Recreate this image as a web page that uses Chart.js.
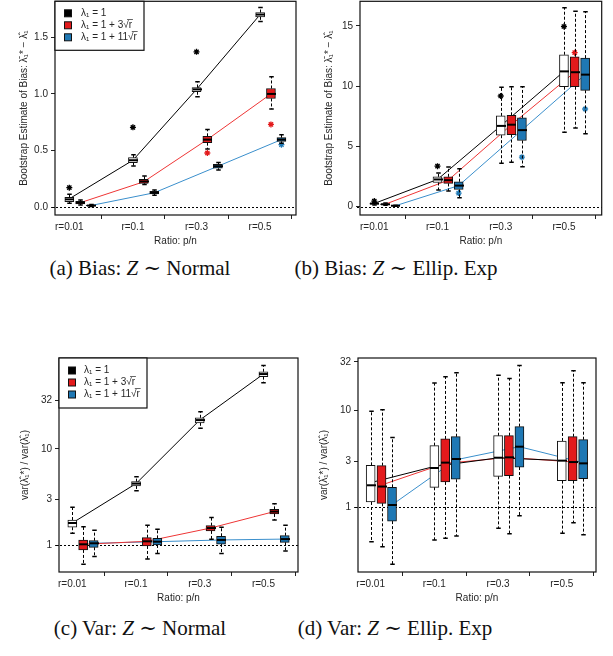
<!DOCTYPE html>
<html>
<head>
<meta charset="utf-8">
<script src="https://cdn.jsdelivr.net/npm/chart.js@4.4.1/dist/chart.umd.min.js"></script>
<style>
  body { margin: 0; background: #fff; }
  #page { position: relative; width: 613px; height: 656px; overflow: hidden; }
  canvas { position: absolute; }
  .cap { position: absolute; width: 300px; text-align: center; font-family: "Liberation Serif", "DejaVu Serif", serif;
         font-size: 21px; line-height: 24px; color: #111; white-space: nowrap; }
</style>
</head>
<body>
<div id="page">
  <canvas id="biasNorm" width="302" height="254" style="left:0;top:-4px"></canvas>
  <canvas id="biasExp" width="307" height="254" style="left:300px;top:-4px"></canvas>
  <canvas id="varNorm" width="302" height="267" style="left:0;top:340px"></canvas>
  <canvas id="varExp" width="300" height="267" style="left:300px;top:340px"></canvas>
  <div class="cap" style="left:-10px;top:256px">(a) Bias: <i>Z</i> &#8764; Normal</div>
  <div class="cap" style="left:246px;top:256px">(b) Bias: <i>Z</i> &#8764; Ellip. Exp</div>
  <div class="cap" style="left:-10px;top:616px">(c) Var: <i>Z</i> &#8764; Normal</div>
  <div class="cap" style="left:245px;top:616px">(d) Var: <i>Z</i> &#8764; Ellip. Exp</div>
</div>
<script>
const groups = ['r=0.01', 'r=0.1', 'r=0.3', 'r=0.5'];
const seriesNames = ['λ₁ = 1', 'λ₁ = 1 + 3√r̅', 'λ₁ = 1 + 11√r̅'];
const offsets = [0, 0.17, 0.335];
const boxFill = ['#ffffff', '#e31a1c', '#1f78b4'];
const keyFill = ['#000000', '#e31a1c', '#1f78b4'];
const lineColor = ['#000000', '#ee3535', '#3a8fcc'];

// boxes: [lower whisker, q1, median, q3, upper whisker] per ratio
// (a) bias, normal
const aBox1 = [[0.035, 0.05, 0.07, 0.088, 0.115], [0.364, 0.394, 0.415, 0.438, 0.464], [0.975, 1.019, 1.04, 1.057, 1.107], [1.639, 1.68, 1.70, 1.718, 1.762]];
const aBox2 = [[0.02, 0.03, 0.04, 0.052, 0.065], [0.2, 0.211, 0.228, 0.247, 0.276], [0.514, 0.57, 0.597, 0.626, 0.687], [0.866, 0.96, 1.0, 1.048, 1.151]];
const aBox3 = [[0.006, 0.011, 0.015, 0.019, 0.024], [0.106, 0.117, 0.128, 0.141, 0.153], [0.329, 0.344, 0.362, 0.379, 0.396], [0.564, 0.581, 0.597, 0.614, 0.64]];
const aLine1 = [0.075, 0.415, 1.04, 1.70];
const aLine2 = [0.04, 0.225, 0.598, 1.0];
const aLine3 = [0.015, 0.128, 0.362, 0.597];
const aOut1 = [[0, 0.173], [1, 0.705], [2, 1.371]];
const aOut2 = [[2, 0.479], [3, 0.731]];
const aOut3 = [[3, 0.552]];

// (b) bias, elliptical exponential
const bBox1 = [[0.15, 0.22, 0.26, 0.3, 0.38], [1.38, 2.01, 2.26, 2.48, 2.8], [3.61, 5.93, 6.7, 7.53, 9.9], [6.18, 9.95, 11.22, 12.6, 16.5]];
const bBox2 = [[0.12, 0.17, 0.2, 0.24, 0.3], [1.3, 1.93, 2.2, 2.48, 3.3], [3.69, 5.98, 6.8, 7.58, 9.95], [6.53, 9.95, 11.15, 12.43, 16.2]];
const bBox3 = [[0.03, 0.06, 0.08, 0.1, 0.13], [0.74, 1.43, 1.75, 2.07, 3.14], [3.31, 5.49, 6.35, 7.36, 9.95], [6.04, 9.65, 10.95, 12.32, 16.16]];
const bLine1 = [0.27, 2.26, 6.7, 11.22];
const bLine2 = [0.2, 2.2, 6.8, 11.15];
const bLine3 = [0.08, 1.75, 6.35, 10.95];
const bOut1 = [[0, 0.47], [1, 3.36], [2, 9.18], [3, 14.94]];
const bOut2 = [[3, 12.77]];
const bOut3 = [[1, 1.13], [2, 4.11], [3, 8.1]];

// (c) variance ratio, normal
const cBox1 = [[1.33, 1.54, 1.705, 1.83, 2.48], [3.69, 4.13, 4.37, 4.58, 5.16], [16.4, 18.7, 19.96, 21.1, 24.4], [48.8, 56.4, 60, 63.4, 73.8]];
const cBox2 = [[0.635, 0.895, 1.024, 1.136, 1.56], [0.72, 0.984, 1.10, 1.20, 1.61], [1.154, 1.41, 1.51, 1.60, 1.94], [1.83, 2.115, 2.24, 2.36, 2.70]];
const cBox3 = [[0.763, 0.953, 1.049, 1.118, 1.43], [0.82, 1.008, 1.09, 1.18, 1.47], [0.82, 1.03, 1.136, 1.24, 1.54], [0.873, 1.074, 1.16, 1.26, 1.61]];
const cLine1 = [1.705, 4.37, 19.96, 60];
const cLine2 = [1.024, 1.10, 1.51, 2.24];
const cLine3 = [1.049, 1.09, 1.136, 1.16];

// (d) variance ratio, elliptical exponential
const dBox1 = [[0.44, 1.135, 1.69, 2.72, 9.84], [0.459, 1.61, 2.55, 4.35, 19.3], [0.606, 2.09, 3.26, 5.51, 23.2], [0.538, 1.89, 3.04, 4.86, 19.5]];
const dBox2 = [[0.39, 1.10, 1.64, 2.70, 10.2], [0.478, 1.83, 2.90, 5.10, 22.5], [0.534, 2.13, 3.29, 5.51, 21.5], [0.694, 1.89, 2.94, 5.38, 25.9]];
const dBox3 = [[0.257, 0.72, 1.057, 1.61, 5.29], [0.505, 1.95, 3.16, 5.38, 24.7], [0.82, 2.61, 4.24, 6.84, 29.4], [0.52, 1.98, 2.85, 5.01, 19.5]];
const dLine1 = [1.8, 2.65, 3.25, 3.05];
const dLine2 = [1.7, 2.85, 3.28, 2.95];
const dLine3 = [1.06, 3.1, 4.24, 2.9];

const FONT = '"Liberation Sans", Arial, sans-serif';
const TXT = '#262626';

function decor(p) {
  return {
    id: 'decor',
    beforeDatasetsDraw(chart) {
      const ctx = chart.ctx, a = chart.chartArea, y = chart.scales.y;
      const yy = Math.round(y.getPixelForValue(p.ref)) + 0.5;
      ctx.save();
      ctx.strokeStyle = '#000';
      ctx.lineWidth = 1;
      ctx.setLineDash([2, 2]);
      ctx.beginPath();
      ctx.moveTo(a.left - 3, yy);
      ctx.lineTo(a.right, yy);
      ctx.stroke();
      ctx.restore();
    },
    afterDatasetsDraw(chart) {
      const ctx = chart.ctx, a = chart.chartArea, y = chart.scales.y;
      ctx.save();
      p.boxes.forEach((set, s) => {
        const meta = chart.getDatasetMeta(3 + s);
        set.forEach((b, g) => {
          const bar = meta.data[g];
          const x = Math.round(bar.x) + 0.5, half = bar.width / 2;
          const py = b.map(v => y.getPixelForValue(v));
          ctx.strokeStyle = '#000';
          ctx.lineWidth = 1;
          ctx.setLineDash([3, 2]);
          ctx.beginPath();
          ctx.moveTo(x, py[3]); ctx.lineTo(x, py[4]);
          ctx.moveTo(x, py[1]); ctx.lineTo(x, py[0]);
          ctx.stroke();
          ctx.setLineDash([]);
          ctx.lineWidth = 1.5;
          ctx.beginPath();
          ctx.moveTo(x - half / 2, py[4]); ctx.lineTo(x + half / 2, py[4]);
          ctx.moveTo(x - half / 2, py[0]); ctx.lineTo(x + half / 2, py[0]);
          ctx.stroke();
          ctx.lineWidth = 2;
          ctx.beginPath();
          ctx.moveTo(x - half, py[2]); ctx.lineTo(x + half, py[2]);
          ctx.stroke();
        });
      });
      // frame
      ctx.lineWidth = 1.2;
      ctx.strokeStyle = '#111';
      ctx.strokeRect(a.left, a.top, a.right - a.left, a.bottom - a.top);
      // legend
      if (p.legend) {
        const L = p.legend;
        ctx.fillStyle = '#fff';
        ctx.fillRect(a.left, a.top, L.w, L.h);
        ctx.strokeRect(a.left, a.top, L.w, L.h);
        ctx.font = '10px ' + FONT;
        ctx.textBaseline = 'middle';
        seriesNames.forEach((name, i) => {
          const ry = a.top + L.rows[i];
          ctx.fillStyle = keyFill[i];
          ctx.fillRect(a.left + L.kx - 3.5, ry - 3.5, 7, 7);
          ctx.lineWidth = 1;
          ctx.strokeStyle = '#111';
          ctx.strokeRect(a.left + L.kx - 3.5, ry - 3.5, 7, 7);
          ctx.fillStyle = TXT;
          ctx.fillText(name, a.left + L.tx, ry);
        });
      }
      ctx.restore();
    }
  };
}

function makePanel(id, p) {
  const datasets = [];
  p.lines.forEach((vals, s) => datasets.push({
    type: 'line',
    data: vals.map((v, g) => ({ x: g + offsets[s], y: v })),
    borderColor: lineColor[s], borderWidth: 1, pointRadius: 0, order: 3
  }));
  p.boxes.forEach((set, s) => datasets.push({
    type: 'bar',
    label: seriesNames[s],
    data: set.map((b, g) => ({ x: g + offsets[s], y: [b[1], b[3]] })),
    backgroundColor: boxFill[s], borderColor: '#111', borderWidth: 1, borderSkipped: false,
    barThickness: 9, grouped: false, order: 2
  }));
  p.outs.forEach((list, s) => datasets.push({
    type: 'scatter',
    data: list.map(o => ({ x: o[0] + offsets[s], y: o[1] })),
    pointStyle: 'star', pointRadius: 3, borderColor: keyFill[s], backgroundColor: keyFill[s],
    borderWidth: 1.3, order: 1
  }));

  return new Chart(document.getElementById(id), {
    type: 'bar',
    data: { datasets: datasets },
    plugins: [decor(p)],
    options: {
      responsive: false,
      animation: false,
      devicePixelRatio: 1,
      layout: { padding: p.pad },
      plugins: { legend: { display: false }, tooltip: { enabled: false } },
      scales: {
        x: {
          type: 'linear', min: p.xMin, max: p.xMax, offset: false,
          afterBuildTicks: s => { s.ticks = groups.map((_, i) => ({ value: i })); },
          afterFit: s => { s.height = 35; s.paddingLeft = 0; s.paddingRight = 0; },
          grid: { drawOnChartArea: false, drawTicks: true, tickLength: 4, color: '#222' },
          border: { display: false },
          ticks: { callback: v => groups[v], font: { family: FONT, size: 10 }, color: TXT, padding: 2, maxRotation: 0, autoSkip: false },
          title: { display: true, text: 'Ratio: p/n', font: { family: FONT, size: 10 }, color: TXT, padding: { top: 0, bottom: 3 } }
        },
        y: {
          type: p.log ? 'logarithmic' : 'linear', min: p.yMin, max: p.yMax,
          afterBuildTicks: s => { s.ticks = p.yTicks.map(v => ({ value: v })); },
          afterFit: s => { s.width = p.yW; s.paddingTop = 0; s.paddingBottom = 0; },
          grid: { drawOnChartArea: false, drawTicks: true, tickLength: 4, color: '#222' },
          border: { display: false },
          ticks: { callback: v => p.fmt(v), font: { family: FONT, size: 10 }, color: TXT, padding: 3 },
          title: { display: true, text: p.yTitle, font: { family: FONT, size: 10 }, color: TXT, padding: { top: p.yTitlePad, bottom: 0 } }
        }
      }
    }
  });
}

const biasTitle = 'Bootstrap Estimate of Bias: λ̄₁* − λ̂₁';
const varTitle = 'var(λ̂₁*) / var(λ̂₁)';

makePanel('biasNorm', {
  boxes: [aBox1, aBox2, aBox3], lines: [aLine1, aLine2, aLine3], outs: [aOut1, aOut2, aOut3],
  xMin: -0.225, xMax: 3.564, yMin: -0.068, yMax: 1.817, yTicks: [0, 0.5, 1, 1.5], fmt: v => v.toFixed(1),
  yW: 55, yTitlePad: 18, pad: { top: 1, right: 6, left: 0, bottom: 0 }, ref: 0, yTitle: biasTitle,
  legend: { w: 89, h: 49, rows: [12, 24, 36], kx: 13, tx: 26 }
});
makePanel('biasExp', {
  boxes: [bBox1, bBox2, bBox3], lines: [bLine1, bLine2, bLine3], outs: [bOut1, bOut2, bOut3],
  xMin: -0.226, xMax: 3.597, yMin: -0.687, yMax: 17.03, yTicks: [0, 5, 10, 15], fmt: v => String(v),
  yW: 60, yTitlePad: 23, pad: { top: 1, right: 5, left: 0, bottom: 0 }, ref: 0, yTitle: biasTitle
});
makePanel('varNorm', {
  boxes: [cBox1, cBox2, cBox3], lines: [cLine1, cLine2, cLine3], outs: [[], [], []], log: true,
  xMin: -0.209, xMax: 3.543, yMin: 0.528, yMax: 88.1, yTicks: [1, 3, 10, 32], fmt: v => String(v),
  yW: 59, yTitlePad: 19, pad: { top: 18, right: 4, left: 0, bottom: 0 }, ref: 1, yTitle: varTitle,
  legend: { w: 88, h: 50, rows: [12.5, 24.5, 36.5], kx: 13, tx: 25 }
});
makePanel('varExp', {
  boxes: [dBox1, dBox2, dBox3], lines: [dLine1, dLine2, dLine3], outs: [[], [], []], log: true,
  xMin: -0.199, xMax: 3.537, yMin: 0.214, yMax: 35.1, yTicks: [1, 3, 10, 32], fmt: v => String(v),
  yW: 58, yTitlePad: 18, pad: { top: 18, right: 4, left: 0, bottom: 0 }, ref: 1, yTitle: varTitle
});
</script>
</body>
</html>
